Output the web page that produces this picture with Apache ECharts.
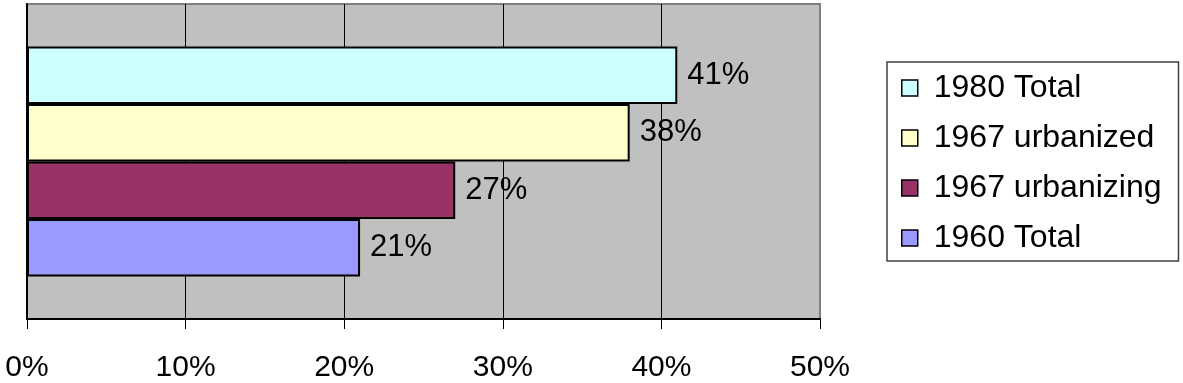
<!DOCTYPE html>
<html>
<head>
<meta charset="utf-8">
<script src="https://cdn.jsdelivr.net/npm/echarts@6/dist/echarts.min.js"></script>
<style>
html,body{margin:0;padding:0;background:#fff;}
#c{width:1183px;height:383px;}
</style>
</head>
<body>
<div id="c"></div>
<script>
const categories = [''];
const seriesNames = ['1980 Total', '1967 urbanized', '1967 urbanizing', '1960 Total'];
const seriesValues = [[41], [38], [27], [21]];
const seriesColors = ['#CCFFFF', '#FFFFCC', '#993366', '#9999FF'];
const xTicks = [0, 10, 20, 30, 40, 50];

const chart = echarts.init(document.getElementById('c'), null, {renderer: 'canvas'});
const font = 'Liberation Sans, Arial, sans-serif';
chart.setOption({
  animation: false,
  textStyle: {fontFamily: font},
  grid: {
    left: 27, top: 4, right: 363, bottom: 63,
    show: true, backgroundColor: '#C0C0C0', borderColor: '#808080', borderWidth: 2,
    containLabel: false
  },
  legend: {
    orient: 'vertical',
    left: 887, top: 62,
    data: seriesNames,
    backgroundColor: '#fff',
    borderColor: '#404040',
    borderWidth: 1.5,
    padding: [9, 17, 6, 14],
    itemWidth: 16, itemHeight: 16,
    itemGap: 16,
    icon: 'rect',
    itemStyle: {borderColor: '#000', borderWidth: 1.5},
    textStyle: {fontSize: 32, color: '#000', fontFamily: font, lineHeight: 34, padding: [0, 0, 0, 11]}
  },
  xAxis: {
    type: 'value', min: xTicks[0], max: xTicks[xTicks.length - 1], interval: 10,
    axisLine: {show: true, onZero: false, lineStyle: {color: '#000', width: 2}},
    axisTick: {show: true, length: 10, lineStyle: {color: '#000', width: 1}},
    axisLabel: {fontSize: 30, color: '#000', margin: 34, fontFamily: font, formatter: '{value}%'},
    splitLine: {show: true, lineStyle: {color: ['#000', '#000', '#000', '#000', '#000', '#808080'], width: 1}}
  },
  yAxis: {
    type: 'category', data: categories,
    axisLine: {show: true, lineStyle: {color: '#000', width: 2}},
    axisTick: {show: false},
    axisLabel: {show: false},
    splitLine: {show: false}
  },
  series: seriesNames.map((n, i) => ({
    name: n,
    type: 'bar',
    data: seriesValues[i],
    barGap: '0%',
    barCategoryGap: '27%',
    itemStyle: {color: seriesColors[i], borderColor: '#000', borderWidth: 2},
    label: {show: true, position: 'right', distance: 10, fontSize: 31, color: '#000', fontFamily: font, formatter: '{c}%'}
  }))
});
</script>
</body>
</html>
